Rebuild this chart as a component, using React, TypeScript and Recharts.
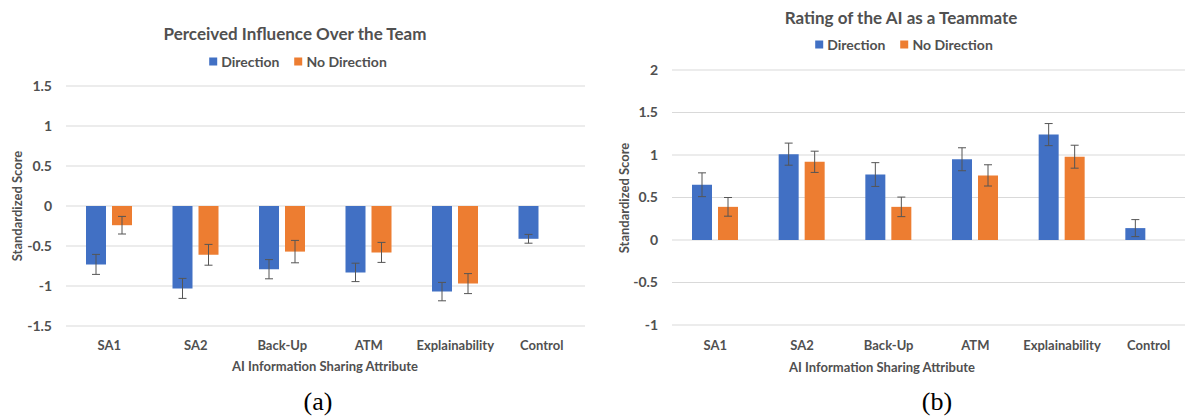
import React from "react";
import { BarChart, Bar, XAxis, YAxis, CartesianGrid, ErrorBar } from "recharts";

const categories = ["SA1", "SA2", "Back-Up", "ATM", "Explainability", "Control"];

// (a) Perceived Influence Over the Team
const influenceDirection = [-0.73, -1.03, -0.79, -0.83, -1.07, -0.41];
const influenceDirectionErr = [0.125, 0.125, 0.12, 0.115, 0.115, 0.055];
const influenceNoDirection = [-0.24, -0.61, -0.57, -0.58, -0.97, 0];
const influenceNoDirectionErr = [0.11, 0.13, 0.14, 0.125, 0.125, 0];
const influenceTicks = [-1.5, -1, -0.5, 0, 0.5, 1, 1.5];

// (b) Rating of the AI as a Teammate
const ratingDirection = [0.65, 1.01, 0.77, 0.95, 1.24, 0.14];
const ratingDirectionErr = [0.14, 0.13, 0.14, 0.135, 0.13, 0.1];
const ratingNoDirection = [0.39, 0.92, 0.39, 0.76, 0.98, 0];
const ratingNoDirectionErr = [0.11, 0.125, 0.115, 0.125, 0.135, 0];
const ratingTicks = [-1, -0.5, 0, 0.5, 1, 1.5, 2];

const BLUE = "#4170C4";
const ORANGE = "#ED7D31";
const TEXT = "#505050";
const GRID = "#D9D9D9";
const ERR = "#555555";
const FONT = "Lato, 'Noto Sans', sans-serif";

const buildRows = (d: number[], dErr: number[], nd: number[], ndErr: number[]) =>
  categories.map((name, i) => ({ name, d: d[i], dErr: dErr[i], nd: nd[i], ndErr: ndErr[i] }));

const influenceRows = buildRows(influenceDirection, influenceDirectionErr, influenceNoDirection, influenceNoDirectionErr);
const ratingRows = buildRows(ratingDirection, ratingDirectionErr, ratingNoDirection, ratingNoDirectionErr);

const abs = (x: number, y: number, extra: React.CSSProperties = {}): React.CSSProperties => ({
  position: "absolute",
  left: x,
  top: y,
  transform: "translate(-50%, -50%)",
  whiteSpace: "nowrap",
  fontFamily: FONT,
  fontWeight: 700,
  color: TEXT,
  ...extra,
});

function LegendRow({ x, y }: { x: number; y: number }) {
  const sq = (c: string): React.CSSProperties => ({ display: "inline-block", width: 8, height: 8, background: c, marginRight: 4 });
  return (
    <div style={abs(x, y, { fontSize: 14, display: "flex", alignItems: "center" })}>
      <span style={sq(BLUE)} />
      <span style={{ marginRight: 15 }}>Direction</span>
      <span style={sq(ORANGE)} />
      <span>No Direction</span>
    </div>
  );
}

type PanelProps = {
  rows: ReturnType<typeof buildRows>;
  ticks: number[];
  left: number;
  width: number;
  yAxisWidth: number;
  top: number;
  bottom: number;
  right: number;
  xTickMargin: number;
};

function Panel({ rows, ticks, left, width, yAxisWidth, top, bottom, right, xTickMargin }: PanelProps) {
  return (
    <div style={{ position: "absolute", left, top: 0 }}>
      <BarChart
        width={width}
        height={400}
        data={rows}
        margin={{ top, right, left: 0, bottom }}
        barSize={20}
        barGap={6}
      >
        <CartesianGrid vertical={false} stroke={GRID} />
        <XAxis
          dataKey="name"
          axisLine={false}
          tickLine={false}
          height={30}
          tickMargin={xTickMargin}
          interval={0}
          tick={{ fill: TEXT, fontSize: 13, fontWeight: 700, fontFamily: FONT }}
        />
        <YAxis
          width={yAxisWidth}
          domain={[ticks[0], ticks[ticks.length - 1]]}
          ticks={ticks}
          axisLine={false}
          tickLine={false}
          tickMargin={8}
          tick={{ fill: TEXT, fontSize: 14, fontWeight: 700, fontFamily: FONT }}
        />
        <Bar dataKey="d" fill={BLUE} isAnimationActive={false}>
          <ErrorBar dataKey="dErr" width={4} stroke={ERR} strokeWidth={1} direction="y" />
        </Bar>
        <Bar dataKey="nd" fill={ORANGE} isAnimationActive={false}>
          <ErrorBar dataKey="ndErr" width={4} stroke={ERR} strokeWidth={1} direction="y" />
        </Bar>
      </BarChart>
    </div>
  );
}

export default function App() {
  return (
    <div
      style={{
        position: "absolute",
        left: 0,
        top: 0,
        width: 1185,
        height: 418,
        overflow: "hidden",
        background: "#fff",
      }}
    >
      {/* (a) */}
      <Panel rows={influenceRows} ticks={influenceTicks} left={0} width={600} yAxisWidth={66} top={86} bottom={44} right={15} xTickMargin={9} />
      <div style={abs(295, 33, { fontSize: 17 })}>Perceived Influence Over the Team</div>
      <LegendRow x={298} y={61} />
      <div style={abs(17, 206, { fontSize: 13, transform: "translate(-50%, -50%) rotate(-90deg)" })}>Standardized Score</div>
      <div style={abs(325, 366, { fontSize: 13 })}>AI Information Sharing Attribute</div>
      <div style={abs(318, 402, { fontSize: 26, fontWeight: 400, color: "#000", fontFamily: "'Liberation Serif', 'DejaVu Serif', serif" })}>(a)</div>

      {/* (b) */}
      <Panel rows={ratingRows} ticks={ratingTicks} left={600} width={610} yAxisWidth={72} top={70} bottom={45} right={18} xTickMargin={10} />
      <div style={abs(901, 17, { fontSize: 17 })}>Rating of the AI as a Teammate</div>
      <LegendRow x={904} y={44} />
      <div style={abs(624, 198, { fontSize: 13, transform: "translate(-50%, -50%) rotate(-90deg)" })}>Standardized Score</div>
      <div style={abs(882, 367, { fontSize: 13 })}>AI Information Sharing Attribute</div>
      <div style={abs(937, 402, { fontSize: 26, fontWeight: 400, color: "#000", fontFamily: "'Liberation Serif', 'DejaVu Serif', serif" })}>(b)</div>
    </div>
  );
}
